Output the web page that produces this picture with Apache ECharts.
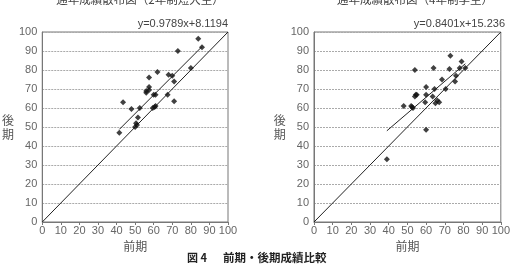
<!DOCTYPE html>
<html><head><meta charset="utf-8">
<script src="https://cdn.jsdelivr.net/npm/echarts@6/dist/echarts.min.js"></script>
<style>html,body{margin:0;padding:0;background:#fff}#c{width:513px;height:267px}</style>
</head><body><div id="c"></div>
<script>
// ---- data ----
const titles = ['通年成績散布図（2年制短大生）', '通年成績散布図（4年制学生）'];
const equations = ['y=0.9789x+8.1194', 'y=0.8401x+15.236'];
const slopes = [0.9789, 0.8401];
const intercepts = [8.1194, 15.236];
const xName = '前期';
const yName = '後期';
const axisTicks = [0, 10, 20, 30, 40, 50, 60, 70, 80, 90, 100];
const diagonal = [0, 100];
const caption = ['図 4', '前期・後期成績比較'];

const leftFirst = [41.5, 43.5, 48, 50, 50.5, 51, 51.5, 52.5, 56, 56, 57.5, 57.5, 57.5, 59.5, 60.5, 61, 60, 61, 62, 67.5, 68, 70, 71, 71, 73, 80, 84, 86];
const leftSecond = [47, 63, 59.5, 50, 52, 51, 55, 60, 68, 69, 69.5, 71, 76, 60, 60.5, 61, 67, 67, 79, 67, 77.5, 77, 74, 63.5, 90, 81, 96.5, 92];

const rightFirst = [39, 48, 52, 52.5, 53, 54, 54.5, 55, 54, 60, 60, 59.5, 60, 63.5, 64.5, 64, 65, 66, 67, 68.5, 70.5, 72.5, 73, 75.5, 76, 78, 79, 81];
const rightSecond = [33, 61, 61, 60.5, 60, 66, 67, 67, 80, 71, 67, 63, 48.5, 66, 70, 81, 62.5, 64, 63, 75, 70, 80.5, 87.5, 74, 77, 81, 84.5, 81];

const firsts = [leftFirst, rightFirst];
const seconds = [leftSecond, rightSecond];

// ---- chart ----
const grids = [
  {left: 37, right: 285, top: 32, bottom: 45, show: true, borderColor: '#777', borderWidth: 1},
  {left: 314, right: 8, top: 32, bottom: 45, show: true, borderColor: '#777', borderWidth: 1}
];
const labelStyle = {color: '#666', fontSize: 11, fontFamily: 'Liberation Sans'};
const xAxes = [0, 1].map(i => ({
  gridIndex: i, type: 'value', min: axisTicks[0], max: axisTicks[axisTicks.length - 1], interval: 10,
  name: xName, nameLocation: 'middle', nameGap: 15,
  nameTextStyle: {color: '#555', fontSize: 12, fontFamily: 'Noto Sans CJK JP'},
  axisLine: {show: true, lineStyle: {color: '#777'}},
  axisTick: {show: true, length: 3, lineStyle: {color: '#777'}},
  axisLabel: Object.assign({margin: 3}, labelStyle),
  splitLine: {show: false}
}));
const yAxes = [0, 1].map(i => ({
  gridIndex: i, type: 'value', min: axisTicks[0], max: axisTicks[axisTicks.length - 1], interval: 10,
  name: yName.split('').join('\n'), nameLocation: 'middle', nameGap: 25, nameRotate: 0,
  nameTextStyle: {color: '#555', fontSize: 12, lineHeight: 14, fontFamily: 'Noto Sans CJK JP'},
  axisLine: {show: true, lineStyle: {color: '#777'}},
  axisTick: {show: false},
  axisLabel: Object.assign({margin: 5}, labelStyle),
  splitLine: {show: true, lineStyle: {color: '#aaa', type: [2, 1]}}
}));

const series = [];
[0, 1].forEach(i => {
  series.push({
    type: 'scatter', xAxisIndex: i, yAxisIndex: i,
    data: firsts[i].map((x, k) => [x, seconds[i][k]]),
    symbol: 'diamond', symbolSize: 6,
    itemStyle: {color: '#111'}, z: 5
  });
  series.push({
    type: 'line', xAxisIndex: i, yAxisIndex: i,
    data: diagonal.map(v => [v, v]),
    symbol: 'none', lineStyle: {color: '#222', width: 1}, silent: true
  });
  const xs = firsts[i];
  const x0 = Math.min(...xs), x1 = Math.max(...xs);
  series.push({
    type: 'line', xAxisIndex: i, yAxisIndex: i,
    data: [x0, x1].map(x => [x, slopes[i] * x + intercepts[i]]),
    symbol: 'none', lineStyle: {color: '#222', width: 1}, silent: true
  });
});

const chart = echarts.init(document.getElementById('c'), null, {renderer: 'canvas'});
chart.setOption({
  animation: false,
  backgroundColor: '#fff',
  title: [
    {text: titles[0], left: 135, top: -11, textAlign: 'center', textStyle: {color: '#444', fontSize: 11.5, fontWeight: 'normal', fontFamily: 'Noto Sans CJK JP'}},
    {text: titles[1], left: 410, top: -11, textAlign: 'center', textStyle: {color: '#444', fontSize: 11.5, fontWeight: 'normal', fontFamily: 'Noto Sans CJK JP'}}
  ],
  grid: grids,
  xAxis: xAxes,
  yAxis: yAxes,
  series: series,
  graphic: [
    {type: 'text', right: 285, top: 18, style: {text: equations[0], fill: '#444', font: '11px "Liberation Sans"'}},
    {type: 'text', right: 8, top: 18, style: {text: equations[1], fill: '#444', font: '11px "Liberation Sans"'}},
    {type: 'text', left: 187, top: 252, style: {text: caption[0], fill: '#222', font: 'bold 11px "Noto Sans CJK JP"'}},
    {type: 'text', left: 223, top: 252, style: {text: caption[1], fill: '#222', font: 'bold 11.5px "Noto Sans CJK JP"'}}
  ]
});
</script>
</body></html>
